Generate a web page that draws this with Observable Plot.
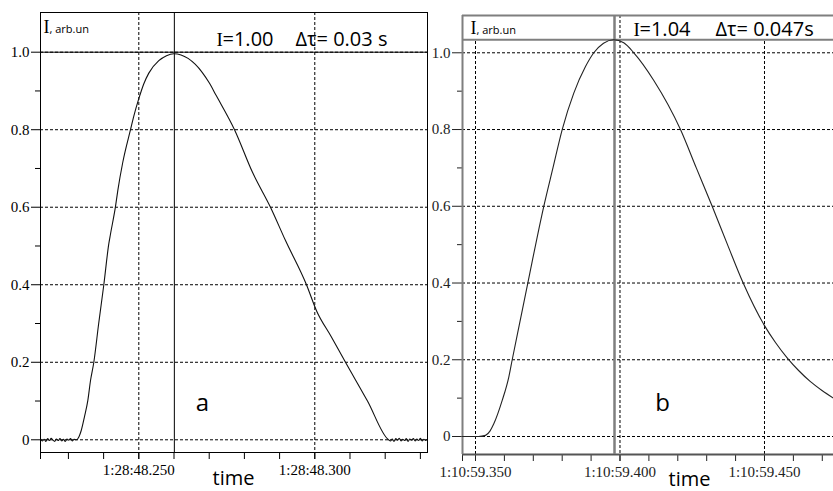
<!DOCTYPE html>
<html><head><meta charset="utf-8">
<script src="https://cdn.jsdelivr.net/npm/d3@7"></script>
<script src="https://cdn.jsdelivr.net/npm/@observablehq/plot@0.6"></script>
<style>
html,body{margin:0;padding:0;background:#fff;}
#wrap{position:relative;width:833px;height:491px;overflow:hidden;background:#fff;}
#pa{position:absolute;left:0;top:0;}
#pb{position:absolute;left:430px;top:0;}
</style></head>
<body><div id="wrap"><div id="pa"></div><div id="pb"></div></div>
<script>
// ---- Panel a: time in ms after 1:28:48.200, intensity arb. units
const tA = [22.1,22.6,23.1,23.6,24.1,24.6,25.1,25.6,26.1,26.6,27.1,27.6,28.1,28.6,29.1,29.6,30.1,30.6,31.1,31.6,32.3,
  33.0,33.64,34.57,35.51,36.28,37.22,38.6,40.06,41.48,41.96,43.38,44.03,45.45,47.64,48.58,50.0,51.4,52.84,55.68,57.87,59.94,
  62.0,64.0,66.0,68.0,70.0,72.0,77.19,82.3,87.41,91.68,97.64,100.48,104.6,108.72,114.97,120.94,
  121.5,122.0,122.5,123.0,123.5,124.0,124.5,125.0,125.5,126.0,126.5,127.0,127.5,128.0,128.5,129.0,129.5,130.0,130.5,131.0,131.5,132.0];
const vA = [0.002,-0.003,0.001,-0.004,0.003,-0.002,0.004,-0.001,-0.004,0.002,-0.002,0.003,-0.003,0.001,-0.004,0.002,-0.001,0.003,-0.003,0.001,0.0,
  0.008,0.024,0.06,0.101,0.153,0.2,0.3,0.4,0.506,0.531,0.602,0.643,0.716,0.8,0.835,0.88,0.918,0.946,0.978,0.991,0.996,
  0.993,0.984,0.969,0.948,0.921,0.888,0.8,0.69,0.6,0.514,0.4,0.333,0.267,0.2,0.1,0.0,
  -0.003,0.002,-0.004,0.003,-0.001,0.004,-0.003,0.001,-0.002,0.003,-0.004,0.002,-0.001,0.003,-0.003,0.002,-0.002,0.004,-0.003,0.001,-0.002,0.002];
const xDomA = [22.07, 132.02];
const yDomA = [-0.0328, 1.1024];
const xTicksA = [22.07,30,40,50,60,70,80,90,100,110,120,130];
const xLabelsA = [50,100];
const cursorA = 60.1;
const peakA = 1.0;
const headA = ["=1.00", "Δτ= 0.03 s"];

// ---- Panel b: time in ms after 1:10:59.300
const tB = [45.5,48.0,51.0,53.46,55.0,56.33,59.24,61.52,62.70,65.4,68.10,73.63,76.8,80.0,84.01,88.06,90.93,94.3,97.85,
  101.3,104.78,111.70,120.93,126.4,131.90,137.2,142.63,150.0,153.8,157.85,161.8,165.9,169.9,173.88];
const vB = [0,0,0,0.003,0.014,0.033,0.094,0.155,0.2,0.3,0.4,0.6,0.7,0.8,0.895,0.964,1.0,1.025,1.034,
  1.026,1.0,0.928,0.8,0.7,0.6,0.5,0.4,0.289,0.245,0.205,0.172,0.143,0.12,0.1];
const xDomB = [45.5, 173.88];
const yDomB = [-0.0469, 1.0972];
const xTicksB = [45.5,50,60,70,80,90,100,110,120,130,140,150,160,170];
const xLabelsB = [50,100,150];
const cursorB = 98.1;
const peakB = 1.034;
const headB = ["=1.04", "Δτ= 0.047s"];

const yMajor = [0,0.2,0.4,0.6,0.8,1.0];
const yMinor = [0.1,0.3,0.5,0.7,0.9];
const yLabel = ["I", ", arb.un"];
const panelNames = ["a","b"];
const xName = "time";

const serif = "'Liberation Serif','Times New Roman',serif";
const sans = "'Open Sans','Noto Sans',sans-serif";
const dash = "3,2";
const fmtY = d => d === 0 ? "0" : d.toFixed(1);
const dataA = tA.map((t,i) => ({t, v: vA[i]}));
const dataB = tB.map((t,i) => ({t, v: vB[i]}));

function txt(s, o) {
  return Plot.text([s], Object.assign({frameAnchor: "top-left", textAnchor: "start", lineAnchor: "bottom", fill: "black"}, o));
}

const A = Plot.plot({
  width: 430, height: 491,
  marginLeft: 40, marginRight: 3, marginTop: 12, marginBottom: 39,
  style: {fontFamily: serif, fontSize: "15px", background: "white", color: "black", overflow: "visible"},
  x: {domain: xDomA},
  y: {domain: yDomA},
  marks: [
    Plot.gridY(yMajor, {stroke: "black", strokeOpacity: 1, strokeDasharray: dash}),
    Plot.gridX(xLabelsA, {stroke: "black", strokeOpacity: 1, strokeDasharray: dash}),
    Plot.axisY(yMajor, {tickSize: 9, tickPadding: 2, tickFormat: fmtY, label: null, fontSize: 15}),
    Plot.axisY(yMinor, {tickSize: 5, text: null, label: null}),
    Plot.axisX(xTicksA, {tickSize: 7, text: null, label: null}),
    Plot.axisX(xLabelsA, {tickSize: 7, tickPadding: 5, tickFormat: d => `1:28:48.${200 + d}`, label: null, fontSize: 15}),
    Plot.ruleY([peakA], {stroke: "black", strokeWidth: 1}),
    Plot.ruleX([cursorA], {stroke: "black", strokeWidth: 1}),
    Plot.line(dataA, {x: "t", y: "v", stroke: "#111", strokeWidth: 1.1, curve: "monotone-x"}),
    Plot.frame({stroke: "black", strokeWidth: 1}),
    txt(yLabel[0], {dx: 3, dy: 20, fontFamily: serif, fontSize: 18}),
    txt(yLabel[1], {dx: 9, dy: 20, fontFamily: sans, fontSize: 11}),
    txt("I", {dx: 176, dy: 33, fontFamily: serif, fontSize: 19}),
    txt(headA[0], {dx: 182, dy: 33, fontFamily: sans, fontSize: 20}),
    txt(headA[1], {dx: 255, dy: 33, fontFamily: sans, fontSize: 20}),
    txt(panelNames[0], {dx: 162, dy: 398, textAnchor: "middle", fontFamily: sans, fontSize: 24}),
    txt(xName, {dx: 193, dy: 472, textAnchor: "middle", fontFamily: sans, fontSize: 20})
  ]
});
document.getElementById("pa").appendChild(A);

const gray = "#7f7f7f";
const B = Plot.plot({
  width: 403, height: 491,
  marginLeft: 32, marginRight: 0, marginTop: 15, marginBottom: 37,
  style: {fontFamily: serif, fontSize: "15px", background: "white", color: "#222", overflow: "visible"},
  x: {domain: xDomB},
  y: {domain: yDomB},
  marks: [
    Plot.gridY(yMajor, {stroke: "black", strokeOpacity: 1, strokeDasharray: dash}),
    Plot.ruleX([xLabelsB[0], xLabelsB[2]], {y1: yDomB[0], y2: peakB, stroke: "black", strokeDasharray: dash}),
    Plot.gridX([xLabelsB[1]], {stroke: "black", strokeOpacity: 1, strokeDasharray: dash}),
    Plot.axisY(yMajor, {tickSize: 10, tickPadding: 2, tickFormat: fmtY, label: null, fontSize: 15}),
    Plot.axisY(yMinor, {tickSize: 5, text: null, label: null}),
    Plot.axisX(xTicksB, {tickSize: 7, text: null, label: null}),
    Plot.axisX(xLabelsB, {tickSize: 7, tickPadding: 5, tickFormat: d => `1:10:59.${300 + d}`, label: null, fontSize: 15}),
    Plot.ruleY([peakB], {stroke: gray, strokeWidth: 2}),
    Plot.ruleY([yDomB[1]], {stroke: gray, strokeWidth: 2}),
    Plot.ruleY([yDomB[0]], {stroke: "#555", strokeWidth: 2}),
    Plot.ruleX([xDomB[0]], {stroke: gray, strokeWidth: 2}),
    Plot.ruleX([cursorB], {stroke: gray, strokeWidth: 2.5}),
    Plot.line(dataB, {x: "t", y: "v", stroke: "#222", strokeWidth: 1.1, curve: "monotone-x"}),
    txt(yLabel[0], {dx: 8, dy: 18, fontFamily: serif, fontSize: 18}),
    txt(yLabel[1], {dx: 14, dy: 18, fontFamily: sans, fontSize: 11}),
    txt("I", {dx: 171, dy: 20, fontFamily: serif, fontSize: 19}),
    txt(headB[0], {dx: 177, dy: 20, fontFamily: sans, fontSize: 20}),
    txt(headB[1], {dx: 253, dy: 20, fontFamily: sans, fontSize: 20}),
    txt(panelNames[1], {dx: 200, dy: 395, textAnchor: "middle", fontFamily: sans, fontSize: 24}),
    txt(xName, {dx: 227, dy: 470, textAnchor: "middle", fontFamily: sans, fontSize: 20})
  ]
});
document.getElementById("pb").appendChild(B);
</script>
</body></html>
